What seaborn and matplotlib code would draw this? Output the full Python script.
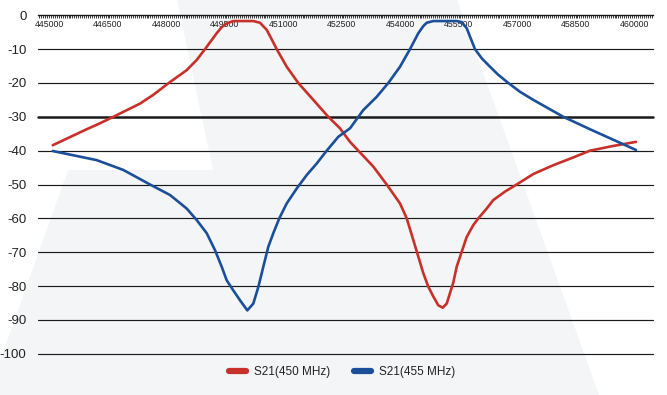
import numpy as np
import matplotlib
matplotlib.use('Agg')
import matplotlib.pyplot as plt
from matplotlib.patches import Polygon
from matplotlib.ticker import FixedLocator, MultipleLocator
import seaborn as sns

# 数据 (频率 Hz, S21 dB)
freq_450 = [445095, 445923, 446308, 446649, 447333, 447674, 448059, 448531,
            448787, 449000, 449172, 449300, 449428, 449556, 449726, 449941,
            450238, 450410, 450582, 450710, 450838, 451095, 451392, 451777,
            452162, 452461, 452718, 452930, 453315, 453659, 454000, 454172,
            454341, 454469, 454597, 454725, 454854, 454982, 455095, 455197,
            455366, 455453, 455582, 455710, 455879, 456008, 456223, 456392,
            456692, 456992, 457418, 457931, 458444, 458872, 459470, 460051]
s21_450 = [-38.4, -33.9, -31.9, -30.0, -26.1, -23.5, -20.1, -16.2,
           -13.2, -10.0, -7.3, -5.3, -3.5, -2.4, -1.7, -1.7,
           -1.7, -2.2, -4.3, -7.1, -10.0, -15.2, -20.0, -25.0,
           -30.0, -33.4, -37.4, -40.0, -44.7, -50.0, -55.6, -60.0,
           -66.4, -71.3, -76.2, -80.2, -83.1, -85.7, -86.4, -85.2,
           -79.0, -74.3, -69.9, -65.5, -62.0, -60.0, -57.1, -54.6,
           -52.1, -50.0, -46.9, -44.3, -42.0, -40.0, -38.6, -37.4]

freq_455 = [445095, 446223, 446905, 447590, 448102, 448530, 448787, 449044,
            449256, 449428, 449556, 449726, 449897, 450085, 450238, 450367,
            450495, 450623, 450751, 450905, 451095, 451351, 451608, 451864,
            452121, 452418, 452718, 453059, 453402, 453700, 454000, 454256,
            454469, 454597, 454685, 454854, 455454, 455582, 455710, 455795,
            455923, 456095, 456308, 456521, 456777, 457077, 457418, 457803,
            458187, 458915, 460051]
s21_455 = [-40.1, -42.8, -45.7, -50.0, -53.1, -57.1, -60.5, -64.4,
           -69.4, -74.3, -78.3, -81.3, -84.2, -87.2, -85.2, -80.3,
           -74.3, -68.4, -64.4, -60.0, -55.6, -51.2, -47.2, -43.8,
           -40.0, -35.9, -33.4, -28.0, -24.1, -20.0, -15.2, -10.0,
           -5.3, -3.2, -2.2, -1.7, -1.7, -2.0, -3.8, -6.3,
           -10.0, -12.7, -15.2, -17.6, -20.0, -22.6, -25.0, -27.5,
           -30.0, -33.9, -39.8]

x_ticks = [445000, 446500, 448000, 449500, 451000, 452500, 454000,
           455500, 457000, 458500, 460000]
y_ticks = [0, -10, -20, -30, -40, -50, -60, -70, -80, -90, -100]
labels = ['S21(450 MHz)', 'S21(455 MHz)']

RED = '#c8302a'
BLUE = '#1b4f99'

sns.set_style('white')
plt.rcParams['font.family'] = ['Liberation Sans', 'DejaVu Sans']

fig = plt.figure(figsize=(6.67, 3.95), dpi=100)

# 背景水印
W, H = 667.0, 395.0
pts = [(177, 0), (457, 0), (599, 395), (0, 395), (0, 361), (68, 170), (213, 170)]
poly = Polygon([(x / W, 1 - y / H) for x, y in pts], closed=True,
               transform=fig.transFigure, facecolor='#f4f5f6', edgecolor='none', zorder=0)
fig.patches.append(poly)

ax = fig.add_axes([37.5 / W, 1 - 353.7 / H, (653 - 37.5) / W, (353.7 - 15.3) / H])
ax.set_zorder(1)
ax.patch.set_alpha(0)

sns.lineplot(x=freq_450, y=s21_450, color=RED, lw=1.9, ax=ax, label=labels[0],
             sort=False, solid_capstyle='round', solid_joinstyle='round')
sns.lineplot(x=freq_455, y=s21_455, color=BLUE, lw=1.9, ax=ax, label=labels[1],
             sort=False, solid_capstyle='round', solid_joinstyle='round')

ax.set_xlim(444705, 460487)
ax.set_ylim(-100, 0)

# 网格
ax.yaxis.set_major_locator(FixedLocator(y_ticks))
ax.grid(axis='y', color='#1a1a1a', lw=0.85)
ax.grid(axis='x', visible=False)
for v, gl in zip(ax.get_yticks(), ax.get_ygridlines()):
    gl.set_clip_on(False)
    if v == -30:
        gl.set_linewidth(1.8)
    if v == 0:
        gl.set_visible(False)

for s in ['left', 'right', 'bottom']:
    ax.spines[s].set_visible(False)
ax.spines['top'].set_color('#1a1a1a')
ax.spines['top'].set_linewidth(1.0)

ax.xaxis.tick_top()
ax.xaxis.set_major_locator(FixedLocator(x_ticks))
ax.xaxis.set_minor_locator(MultipleLocator(50))
ax.set_xticklabels([str(t) for t in x_ticks])
ax.tick_params(axis='x', which='both', direction='in', length=2.2, width=0.6,
               color='#1a1a1a', labelsize=6.3, pad=-10, labelcolor='#222222')
ax.tick_params(axis='y', length=0, labelsize=9.5, pad=8, labelcolor='#222222')
ax.set_yticklabels([str(t) for t in y_ticks])
ax.set_xlabel('')
ax.set_ylabel('')

leg = ax.legend(loc='center', bbox_to_anchor=(0.513, 0.058), bbox_transform=fig.transFigure,
                ncol=2, frameon=False, fontsize=8.5, handlelength=1.4, handletextpad=0.7,
                columnspacing=2.0)
for h in leg.get_lines():
    h.set_linewidth(4.5)
    h.set_solid_capstyle('round')
for t in leg.get_texts():
    t.set_color('#222222')

fig.savefig('out.png', dpi=100)
